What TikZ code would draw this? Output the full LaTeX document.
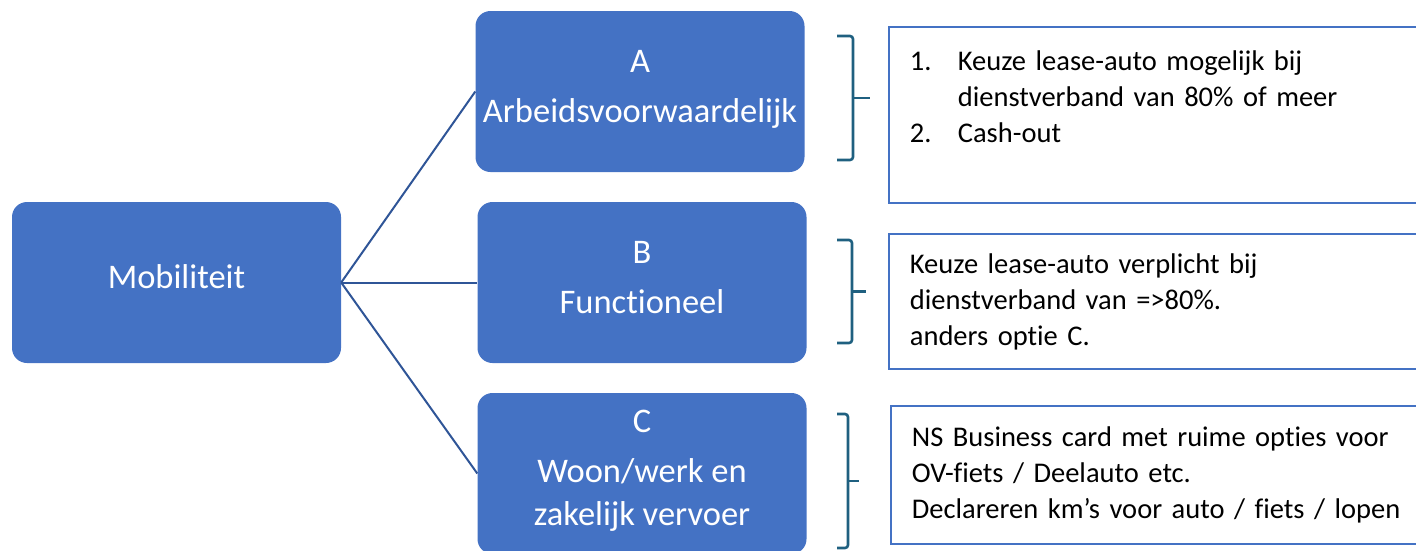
\documentclass[tikz,border=0pt]{standalone}
\usepackage{fontspec}
\setmainfont{Carlito}[Ligatures={NoCommon}]

\definecolor{vlakblauw}{HTML}{4472C4}
\definecolor{lijnblauw}{HTML}{2F5597}
\definecolor{haakkleur}{RGB}{31,96,128}

\tikzset{
	optie/.style={fill=vlakblauw, rounded corners=15pt, text=white, align=center,
		font=\fontsize{34.5}{43}\selectfont, minimum width=329pt, minimum height=161pt,
		inner sep=0pt, text depth=11pt},
	uitleg/.style={draw=vlakblauw, line width=1.8pt, anchor=north west, align=left,
		font=\fontsize{28.5}{36}\selectfont, text width=520pt, inner xsep=21pt},
	verbinding/.style={draw=lijnblauw, line width=2pt},
	haak/.style={draw=haakkleur, line width=2.6pt, rounded corners=3pt},
}

\begin{document}
\begin{tikzpicture}[x=1pt,y=-1pt]
	\useasboundingbox (0,0) rectangle (1416,550);
	\clip (0,0) rectangle (1416,550);

	% hoofdvlak en opties
	\node[optie] (mob)  at (176.5,282.5) {Mobiliteit};
	\node[optie] (optA) at (640,91.5)  {A\\[7pt]Arbeidsvoorwaardelijk};
	\node[optie] (optB) at (642,282.5) {B\\[7pt]Functioneel};
	\node[optie] (optC) at (642,473.5) {C\\[7pt]Woon/werk en\\zakelijk vervoer};

	\foreach \opt in {optA,optB,optC} {
		\draw[verbinding] (mob.east) -- (\opt.west);
	}

	% accolades
	\foreach \boven/\onder/\rug/\punt in {36/160/853/870, 240/343/852/866, 414/548/848/859} {
		\pgfmathsetmacro{\midden}{(\boven+\onder)/2}
		\draw[haak] (837,\boven) -| (\rug,\onder) -- (837,\onder);
		\draw[haak] (\rug,\midden) -- (\punt,\midden);
	}

	% toelichting
	\node[uitleg, minimum height=176pt] (tekstA) at (888,26) {%
		\makebox[48pt][l]{1.}Keuze lease-auto mogelijk bij\\
		\hspace*{48pt}dienstverband van 80\% of meer\\
		\makebox[48pt][l]{2.}Cash-out\\
		~};
	\node[uitleg, minimum height=135pt] (tekstB) at (888,233) {%
		Keuze lease-auto verplicht bij\\
		dienstverband van =>80\%.\\
		anders optie C.};
	\node[uitleg, minimum height=138pt] (tekstC) at (890,405) {%
		NS Business card met ruime opties voor\\
		OV-fiets / Deelauto etc.\\
		Declareren km’s voor auto / fiets / lopen};
\end{tikzpicture}
\end{document}
